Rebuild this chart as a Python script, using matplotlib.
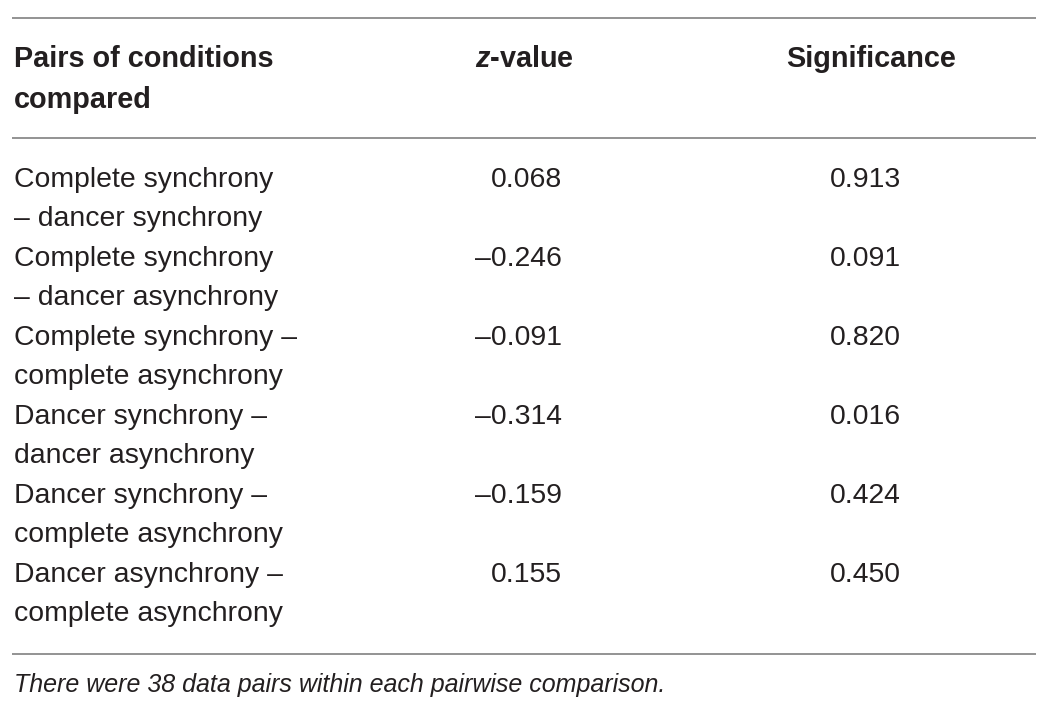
import matplotlib
matplotlib.use('Agg')
import matplotlib.pyplot as plt

plt.rcParams['font.family'] = ['Liberation Sans', 'DejaVu Sans']
plt.rcParams['mathtext.fontset'] = 'custom'
plt.rcParams['mathtext.it'] = 'Liberation Sans:italic:bold'

# table data
headers = ['Pairs of conditions\ncompared', '$z$-value', 'Significance']
pairs = ['Complete synchrony\n\u2013 dancer synchrony',
         'Complete synchrony\n\u2013 dancer asynchrony',
         'Complete synchrony \u2013\ncomplete asynchrony',
         'Dancer synchrony \u2013\ndancer asynchrony',
         'Dancer synchrony \u2013\ncomplete asynchrony',
         'Dancer asynchrony \u2013\ncomplete asynchrony']
z_values = [0.068, -0.246, -0.091, -0.314, -0.159, 0.155]
significance = [0.913, 0.091, 0.820, 0.016, 0.424, 0.450]
footnote = 'There were 38 data pairs within each pairwise comparison.'

W, H = 1054, 714
fig = plt.figure(figsize=(W / 100, H / 100), dpi=100)
ax = fig.add_axes([0, 0, 1, 1])
ax.set_xlim(0, W)
ax.set_ylim(H, 0)
ax.axis('off')

txt = '#231f20'
fs = 20.4
fs_head = 20.8
line_gap = 39

# rules
for y in [18, 138, 654]:
    ax.plot([12, 1036], [y, y], color='#8a8a8a', lw=1.3, solid_capstyle='butt')

# header
ax.text(14, 59, headers[0].split('\n')[0], fontsize=fs_head, fontweight='bold', color=txt, va='center')
ax.text(14, 59 + 41, headers[0].split('\n')[1], fontsize=fs_head, fontweight='bold', color=txt, va='center')
ax.text(524, 59, headers[1], fontsize=fs_head, fontweight='bold', color=txt, va='center', ha='center')
ax.text(871, 59, headers[2], fontsize=fs_head, fontweight='bold', color=txt, va='center', ha='center')

# rows
y0 = 180
for i, (p, z, s) in enumerate(zip(pairs, z_values, significance)):
    y = y0 + i * 79
    l1, l2 = p.split('\n')
    ax.text(14, y, l1, fontsize=fs, color=txt, va='center')
    ax.text(14, y + line_gap, l2, fontsize=fs, color=txt, va='center')
    zs = f'{z:.3f}'.replace('-', '\u2013')
    ax.text(562, y, zs, fontsize=fs, color=txt, va='center', ha='right')
    ax.text(901, y, f'{s:.3f}', fontsize=fs, color=txt, va='center', ha='right')

ax.text(14, 685, footnote, fontsize=18, fontstyle='italic', color=txt, va='center')

fig.savefig('out.png', dpi=100)
